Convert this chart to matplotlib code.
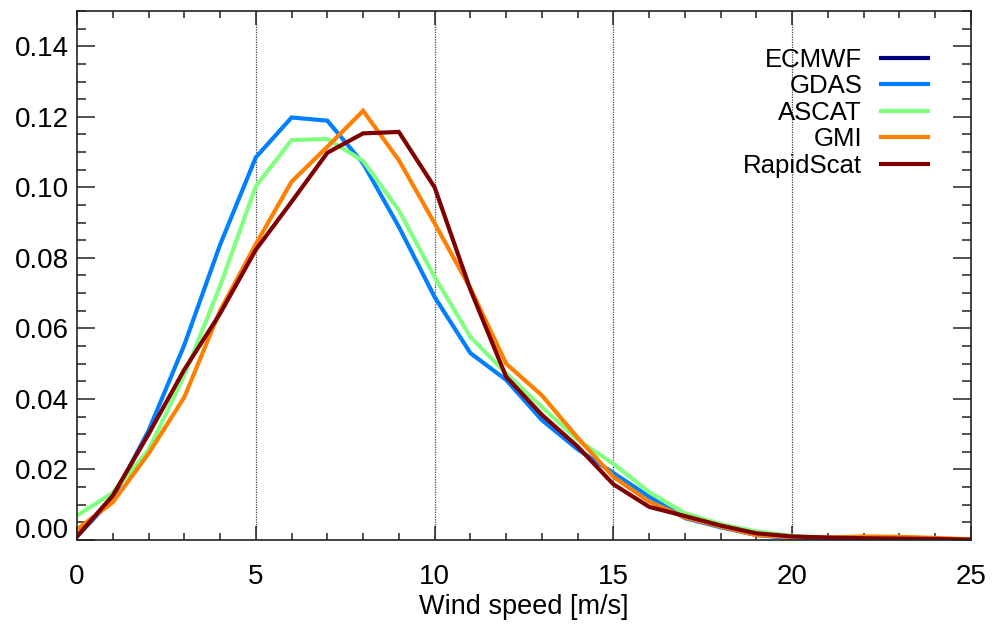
import matplotlib
matplotlib.use("Agg")
import matplotlib.pyplot as plt
from matplotlib.ticker import MultipleLocator
import matplotlib.transforms as mtransforms

plt.rcParams['font.family'] = ['Liberation Sans', 'DejaVu Sans']

wind = list(range(0, 26))
# ECMWF line is not visible in the chart (hidden); kept as a legend entry only
ecmwf = []
gdas = [0.001, 0.0118, 0.031, 0.0553, 0.0837, 0.1085, 0.1198, 0.1189, 0.1068, 0.0888,
        0.0689, 0.0530, 0.0454, 0.0340, 0.0257, 0.0190, 0.0123, 0.0062, 0.0036, 0.0014,
        0.0005, 0.0002, 0.0001, 0.0002, 0.0002, 0.0001]
ascat = [0.0069, 0.0134, 0.0255, 0.0467, 0.0720, 0.1003, 0.1134, 0.1137, 0.1075, 0.0935,
         0.0746, 0.0576, 0.0472, 0.0377, 0.0284, 0.0216, 0.0136, 0.0076, 0.0045, 0.0024,
         0.0012, 0.0006, 0.0004, 0.0003, 0.0002, 0.0001]
gmi = [0.003, 0.0107, 0.0245, 0.0405, 0.0650, 0.0839, 0.1016, 0.1115, 0.1217, 0.1077,
       0.0898, 0.0714, 0.0500, 0.0410, 0.0290, 0.0179, 0.0109, 0.0064, 0.0038, 0.0014,
       0.0008, 0.0007, 0.0010, 0.0009, 0.0006, 0.0002]
rapidscat = [0.001, 0.0126, 0.0300, 0.0483, 0.0642, 0.0823, 0.0959, 0.1098, 0.1153, 0.1157,
             0.1000, 0.0710, 0.0463, 0.0355, 0.0265, 0.0158, 0.0094, 0.0068, 0.0041, 0.0019,
             0.0010, 0.0007, 0.0005, 0.0004, 0.0003, 0.0001]

names = ['ECMWF', 'GDAS', 'ASCAT', 'GMI', 'RapidScat']
series = [ecmwf, gdas, ascat, gmi, rapidscat]
colors = ['#00007f', '#0080ff', '#80ff80', '#ff8000', '#7f0000']

fig = plt.figure(figsize=(9.95, 6.24), dpi=100)
ax = fig.add_axes([0.0774, 0.1346, 0.8985, 0.8478])

for xv in [5, 10, 15, 20]:
    ax.axvline(xv, color='#444444', lw=0.9, ls=(0, (1, 1)), zorder=1)

for name, vals, c in zip(names, series, colors):
    ax.plot(wind[:len(vals)], vals, color=c, lw=3.0, label=name, zorder=2,
            solid_joinstyle='miter')

ax.set_xlim(0, 25)
ax.set_ylim(0, 0.15)
ax.xaxis.set_major_locator(MultipleLocator(5))
ax.xaxis.set_minor_locator(MultipleLocator(1))
ax.yaxis.set_major_locator(MultipleLocator(0.02))
ax.yaxis.set_minor_locator(MultipleLocator(0.005))
ax.set_yticks([0.0, 0.02, 0.04, 0.06, 0.08, 0.10, 0.12, 0.14])
ax.set_yticklabels(['0.00', '0.02', '0.04', '0.06', '0.08', '0.10', '0.12', '0.14'])

ax.tick_params(axis='both', which='both', direction='in', top=True, right=True,
               width=1.1, color='#222222')
ax.tick_params(axis='y', which='major', length=13, labelsize=20, pad=6)
ax.tick_params(axis='y', which='minor', length=6.5)
ax.tick_params(axis='x', which='major', length=10, labelsize=20, pad=17)
ax.tick_params(axis='x', which='minor', length=5)
for s in ax.spines.values():
    s.set_linewidth(1.2)
    s.set_color('#222222')

ax.set_xlabel('Wind speed [m/s]', fontsize=19.5, labelpad=3)

leg = ax.legend(loc='upper right', bbox_to_anchor=(0.963, 0.95), frameon=False,
                markerfirst=False, fontsize=18.5, handlelength=1.8, handletextpad=0.75,
                labelspacing=0.1, borderaxespad=0)
for t in leg.get_texts():
    t.set_ha('right')
leg._legend_box.align = 'right'

fig.canvas.draw()
lbl = ax.get_yticklabels()[0]
lbl.set_transform(lbl.get_transform() + mtransforms.ScaledTranslation(0, 12/100, fig.dpi_scale_trans))

fig.savefig('out.png', dpi=100)
